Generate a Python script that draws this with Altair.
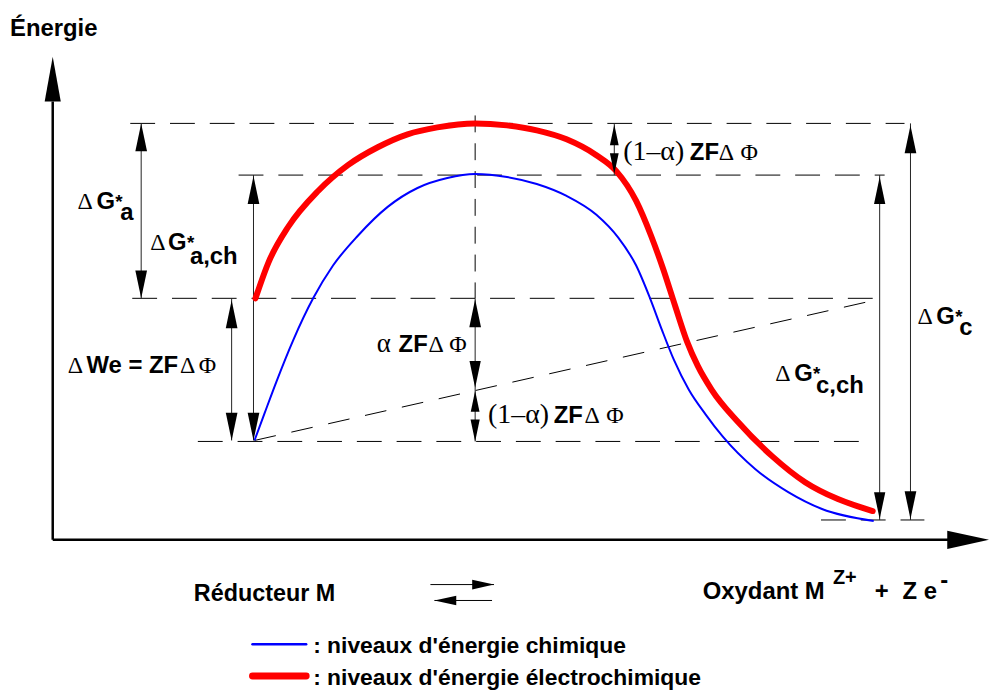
import altair as alt
import pandas as pd

# ---------------- figure frame (drawing units: x to the right, y downward) ----------------
W, H = 987, 687
XD = [8, 995]
YD = [8, 695]

# ---------------- energy curves ----------------
blue_x = [256, 266, 278, 295, 315, 335, 360, 390, 420, 450, 478, 510, 540, 570, 600, 622, 640, 654,
          666, 678, 693, 710, 727, 760, 793, 827, 879]
blue_y = [441, 414, 382, 340, 298, 265, 235, 206, 187, 177, 173, 176, 183, 195, 214, 237, 265, 298,
          330, 360, 390, 415, 437, 470, 493, 510, 522]
red_x = [257, 270, 290, 320, 350, 380, 410, 440, 478, 510, 540, 570, 600, 620, 640, 655, 667, 679,
         691, 702, 716, 743, 777, 810, 843, 878]
red_y = [298, 262, 226, 190, 164, 146, 133, 126, 122, 124, 129, 138, 154, 170, 200, 235, 268, 305,
         341, 366, 390, 423, 457, 483, 500, 512]

# ---------------- dashed energy levels ----------------
lvl_y = [122, 174, 298, 442, 521]
lvl_x1 = [131, 240, 133, 199, 826]
lvl_x2 = [910, 890, 884, 878, 930]

# vertical dashed line at the transition state
ts_x = [478]
ts_y1 = [114]
ts_y2 = [298]

# slanted dashed line (potential drop)
sl_x1 = [256]
sl_y1 = [441]
sl_x2 = [884]
sl_y2 = [299]

# ---------------- measurement bars (double arrows) ----------------
bar_x = [142, 255, 233, 478, 618, 885, 916]
bar_y1 = [122, 174, 298, 298, 122, 174, 122]
bar_y2 = [298, 441, 441, 442, 174, 521, 521]

# ---------------- axes and equilibrium arrows ----------------
axis_x1 = [53, 53]
axis_y1 = [100, 541]
axis_x2 = [53, 955]
axis_y2 = [541, 541]

eq_x1 = [433, 437]
eq_x2 = [497, 495]
eq_y = [586, 602]

# ---------------- arrow heads ----------------
head_x = [142, 142, 255, 255, 233, 233, 478, 478, 478, 478, 618, 618, 885, 885, 916, 916, 53, 995, 497, 437]
head_y = [122, 298, 175, 441, 300, 441, 299, 388, 391, 442, 123, 173, 176, 520, 124, 520, 55, 541, 586, 602]
head_dir = ["up", "down", "up", "down", "up", "down", "up", "down", "up", "down", "up", "down",
            "up", "down", "up", "down", "axis_up", "right", "right", "left"]
head_len = [28, 28, 28, 28, 28, 28, 28, 27, 21, 22, 21, 21, 27, 27, 28, 28, 45, 42, 22, 22]

shape_dom = ["up", "down", "axis_up", "right", "left"]
shape_rng = ["M0,0L0.42,2L-0.42,2Z", "M0,0L0.42,-2L-0.42,-2Z", "M0,0L0.36,2L-0.36,2Z",
             "M0,0L-2,0.44L-2,-0.44Z", "M0,0L2,0.44L2,-0.44Z"]

# ---------------- texts ----------------
sans_text = ["Énergie",
             "G", "*", "a",
             "G", "*", "a,ch",
             "We = ZF", "ZF", "ZF", "ZF",
             "G", "*", "c,ch",
             "G", "*", "c",
             "Réducteur M", "Oxydant M", "Z+", "+", "Z e", "-",
             ": niveaux d'énergie chimique", ": niveaux d'énergie électrochimique"]
sans_x = [10, 97, 116, 121, 169, 188, 191, 87, 401, 557, 694, 799, 818, 821, 942, 961, 965,
          195, 707, 838, 880, 908, 946, 315, 315]
sans_y = [34, 208, 207, 219, 249, 248, 263, 373, 352, 423, 159, 381, 380, 393, 324, 323, 335,
          603, 601, 585, 601, 601, 589, 655, 687]
sans_size = [24, 24, 19, 24, 24, 19, 24, 24, 24, 24, 24, 24, 19, 24, 24, 19, 24,
             23.5, 24, 20, 24, 24, 24, 23, 23]

serif_text = ["Δ", "Δ", "Δ", "Δ", "Φ", "α", "Δ", "Φ", "(1–α)", "Δ", "Φ", "(1–α)", "Δ", "Φ", "Δ", "Δ"]
serif_x = [78, 151, 68, 181, 200, 379, 431, 452, 491, 588, 610, 627, 723, 745, 780, 923]
serif_y = [208, 249, 373, 373, 373, 352, 352, 352, 423, 423, 423, 159, 159, 159, 381, 324]
serif_size = [24, 24, 24, 24, 24, 27, 24, 24, 28, 24, 24, 28, 24, 24, 24, 24]

# ---------------- legend samples ----------------
leg_x1 = [254, 254]
leg_x2 = [308, 308]
leg_y = [646, 678]
leg_color = ["#0000ff", "#ff0000"]
leg_width = [2.5, 7]

# ================= build chart =================
xs = alt.Scale(domain=XD, nice=False, zero=False)
ys = alt.Scale(domain=YD, reverse=True, nice=False, zero=False)


def X(f):
    return alt.X(f, type="quantitative", scale=xs, axis=None)


def Y(f):
    return alt.Y(f, type="quantitative", scale=ys, axis=None)


blue = pd.DataFrame({"x": blue_x, "y": blue_y})
red = pd.DataFrame({"x": red_x, "y": red_y})
lv = pd.DataFrame({"x1": lvl_x1, "x2": lvl_x2, "y": lvl_y})
ts = pd.DataFrame({"x": ts_x, "y1": ts_y1, "y2": ts_y2})
sl = pd.DataFrame({"x1": sl_x1, "y1": sl_y1, "x2": sl_x2, "y2": sl_y2})
bars = pd.DataFrame({"x": bar_x, "y1": bar_y1, "y2": bar_y2})
ax = pd.DataFrame({"x1": axis_x1, "y1": axis_y1, "x2": axis_x2, "y2": axis_y2})
eq = pd.DataFrame({"x1": eq_x1, "x2": eq_x2, "y": eq_y})
heads = pd.DataFrame({"x": head_x, "y": head_y, "dir": head_dir,
                      "s": [l * l for l in head_len]})
st = pd.DataFrame({"x": sans_x, "y": sans_y, "t": sans_text, "s": sans_size})
se = pd.DataFrame({"x": serif_x, "y": serif_y, "t": serif_text, "s": serif_size})
lg = pd.DataFrame({"x1": leg_x1, "x2": leg_x2, "y": leg_y, "c": leg_color, "w": leg_width})

dash_lv = alt.Chart(lv).mark_rule(color="black", strokeWidth=1, strokeDash=[25, 15]).encode(
    x=X("x1"), x2="x2", y=Y("y"))
dash_ts = alt.Chart(ts).mark_rule(color="black", strokeWidth=1, strokeDash=[17, 11]).encode(
    x=X("x"), y=Y("y1"), y2="y2")
dash_sl = alt.Chart(sl).mark_rule(color="black", strokeWidth=1, strokeDash=[22, 16]).encode(
    x=X("x1"), x2="x2", y=Y("y1"), y2="y2")
bar_l = alt.Chart(bars).mark_rule(color="#222", strokeWidth=1).encode(
    x=X("x"), y=Y("y1"), y2="y2")
axis_l = alt.Chart(ax).mark_rule(color="black", strokeWidth=2.5).encode(
    x=X("x1"), x2="x2", y=Y("y1"), y2="y2")
eq_l = alt.Chart(eq).mark_rule(color="black", strokeWidth=1).encode(
    x=X("x1"), x2="x2", y=Y("y"))
blue_l = alt.Chart(blue).mark_line(color="#0000ff", strokeWidth=2, interpolate="monotone").encode(
    x=X("x"), y=Y("y"))
red_l = alt.Chart(red).mark_line(color="#ff0000", strokeWidth=6, interpolate="monotone",
                                  strokeCap="round").encode(x=X("x"), y=Y("y"))
head_p = alt.Chart(heads).mark_point(filled=True, opacity=1, color="black").encode(
    x=X("x"), y=Y("y"),
    shape=alt.Shape("dir:N", scale=alt.Scale(domain=shape_dom, range=shape_rng), legend=None),
    size=alt.Size("s:Q", scale=None))
sans_t = alt.Chart(st).mark_text(align="left", baseline="alphabetic", font="Liberation Sans",
                                 fontWeight="bold", color="black").encode(
    x=X("x"), y=Y("y"), text="t:N", size=alt.Size("s:Q", scale=None))
serif_t = alt.Chart(se).mark_text(align="left", baseline="alphabetic", font="Liberation Serif",
                                  color="black").encode(
    x=X("x"), y=Y("y"), text="t:N", size=alt.Size("s:Q", scale=None))
leg_l = alt.Chart(lg).mark_rule(strokeCap="round").encode(
    x=X("x1"), x2="x2", y=Y("y"),
    color=alt.Color("c:N", scale=None),
    strokeWidth=alt.StrokeWidth("w:Q", scale=None))

chart = alt.layer(dash_lv, dash_ts, dash_sl, bar_l, axis_l, eq_l, blue_l, red_l, head_p,
                  sans_t, serif_t, leg_l).properties(
    width=W, height=H, padding=0, autosize="none"
).configure_view(stroke=None)

chart.save("out.html", embed_options={"renderer": "svg", "actions": False})
